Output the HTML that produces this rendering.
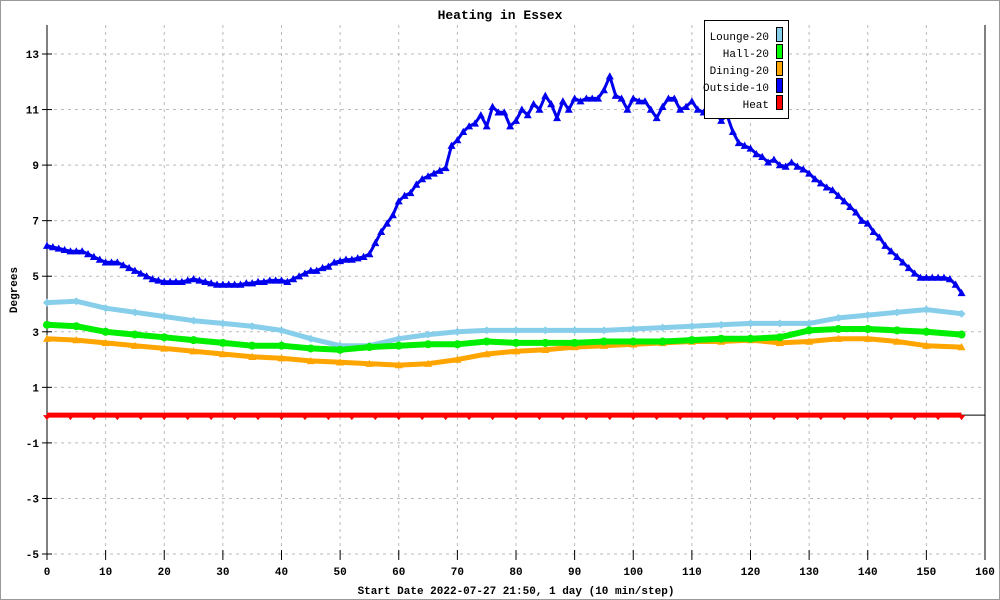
<!DOCTYPE html>
<html><head><meta charset="utf-8"><style>
html,body{margin:0;padding:0;background:#fff}
svg{display:block;font-family:"Liberation Mono","DejaVu Sans Mono",monospace}
</style></head><body>
<svg id="chart" width="1000" height="600" xmlns="http://www.w3.org/2000/svg">
<rect x="0.5" y="0.5" width="999" height="599" fill="#fff" stroke="#999"/>
<text x="500" y="19" text-anchor="middle" font-size="13" font-weight="bold">Heating in Essex</text>
<g id="grid"></g>
<g id="axes"></g>
<g id="series"></g>
<text transform="translate(17,290) rotate(-90)" text-anchor="middle" font-size="11" font-weight="bold">Degrees</text>
<text x="516" y="594" text-anchor="middle" font-size="11" font-weight="bold">Start Date 2022-07-27 21:50, 1 day (10 min/step)</text>
<g>
<rect x="704.5" y="20.5" width="84" height="98" fill="#fff" stroke="#000"/>
<g font-size="11">
<text x="769" y="40" text-anchor="end">Lounge-20</text>
<rect x="776.5" y="27.5" width="6" height="14" fill="#87ceeb" stroke="#000"/>
<text x="769" y="57" text-anchor="end">Hall-20</text>
<rect x="776.5" y="44.5" width="6" height="14" fill="#00ff00" stroke="#000"/>
<text x="769" y="74" text-anchor="end">Dining-20</text>
<rect x="776.5" y="61.5" width="6" height="14" fill="#ffa500" stroke="#000"/>
<text x="769" y="91" text-anchor="end">Outside-10</text>
<rect x="776.5" y="78.5" width="6" height="14" fill="#0000ff" stroke="#000"/>
<text x="769" y="108" text-anchor="end">Heat</text>
<rect x="776.5" y="95.5" width="6" height="14" fill="#ff0000" stroke="#000"/>
</g></g>
</svg>
<script>
const xTicks=[0,10,20,30,40,50,60,70,80,90,100,110,120,130,140,150,160];
const yTicks=[-5,-3,-1,1,3,5,7,9,11,13];
const outside=[6.1,6.05,6.0,5.95,5.9,5.9,5.9,5.8,5.7,5.6,5.5,5.5,5.5,5.4,5.3,5.2,5.1,5.0,4.9,4.85,4.8,4.8,4.8,4.8,4.85,4.9,4.85,4.8,4.75,4.7,4.7,4.7,4.7,4.7,4.75,4.75,4.8,4.8,4.85,4.85,4.85,4.8,4.9,5.0,5.1,5.2,5.2,5.3,5.35,5.5,5.55,5.6,5.6,5.65,5.7,5.8,6.2,6.6,6.9,7.2,7.7,7.9,8.0,8.3,8.5,8.6,8.7,8.8,8.9,9.7,9.9,10.2,10.4,10.5,10.8,10.4,11.1,10.9,10.9,10.4,10.6,11.0,10.8,11.2,11.0,11.5,11.2,10.7,11.3,11.0,11.4,11.3,11.4,11.4,11.4,11.7,12.2,11.5,11.4,11.0,11.4,11.3,11.3,11.0,10.7,11.1,11.4,11.4,11.0,11.1,11.3,11.0,10.9,10.9,10.9,10.6,10.8,10.2,9.8,9.7,9.6,9.4,9.3,9.1,9.2,9.0,8.95,9.1,8.95,8.85,8.7,8.5,8.35,8.2,8.1,7.9,7.7,7.5,7.3,7.0,6.9,6.6,6.4,6.1,5.9,5.7,5.5,5.3,5.1,4.95,4.95,4.95,4.95,4.95,4.9,4.7,4.4];
const sparseSteps=[0,5,10,15,20,25,30,35,40,45,50,55,60,65,70,75,80,85,90,95,100,105,110,115,120,125,130,135,140,145,150,156];
const lounge=[4.05,4.1,3.85,3.7,3.55,3.4,3.3,3.2,3.05,2.75,2.5,2.5,2.75,2.9,3.0,3.05,3.05,3.05,3.05,3.05,3.1,3.15,3.2,3.25,3.3,3.3,3.3,3.5,3.6,3.7,3.8,3.65];
const hall=[3.25,3.2,3.0,2.9,2.8,2.7,2.6,2.5,2.5,2.4,2.35,2.45,2.5,2.55,2.55,2.65,2.6,2.6,2.6,2.65,2.65,2.65,2.7,2.75,2.75,2.8,3.05,3.1,3.1,3.05,3.0,2.9];
const dining=[2.75,2.7,2.6,2.5,2.4,2.3,2.2,2.1,2.05,1.95,1.9,1.85,1.8,1.85,2.0,2.2,2.3,2.35,2.45,2.5,2.55,2.6,2.65,2.65,2.7,2.6,2.65,2.75,2.75,2.65,2.5,2.45];
const heatSteps=[0,4,8,12,16,20,24,28,32,36,40,44,48,52,56,60,64,68,72,76,80,84,88,92,96,100,104,108,112,116,120,124,128,132,136,140,144,148,152,156];
const heat=[0,0,0,0,0,0,0,0,0,0,0,0,0,0,0,0,0,0,0,0,0,0,0,0,0,0,0,0,0,0,0,0,0,0,0,0,0,0,0,0];

const NS="http://www.w3.org/2000/svg";
const X0=47,X1=985,Y13=54,Ym5=554;
function xs(v){return X0+(v-0)*(X1-X0)/160;}
function ys(v){return Ym5-(v+5)*(Ym5-Y13)/18;}
function mk(tag,attrs,parent){const e=document.createElementNS(NS,tag);for(const k in attrs)e.setAttribute(k,attrs[k]);parent.appendChild(e);return e;}
const grid=document.getElementById('grid'),axes=document.getElementById('axes'),ser=document.getElementById('series');

xTicks.forEach(t=>{
  if(t>0&&t<160){const g=mk('line',{x1:xs(t),x2:xs(t),y1:25,y2:Ym5,stroke:'#bbb','stroke-dasharray':'3,4'},grid);
  
  }
  const tk=mk('line',{x1:xs(t),x2:xs(t),y1:Ym5-4,y2:Ym5+6,stroke:'#000'},axes);
  
  
  const tl=mk('text',{x:xs(t),y:575,'text-anchor':'middle','font-size':'11','font-weight':'bold'},axes);
  tl.textContent=t;
  
  
});
yTicks.forEach(t=>{
  const g=mk('line',{x1:X0,x2:X1,y1:ys(t),y2:ys(t),stroke:'#bbb','stroke-dasharray':'3,4'},grid);
  
  
  const tk=mk('line',{x1:X0-5,x2:X0+5,y1:ys(t),y2:ys(t),stroke:'#000'},axes);
  
  
  const tl=mk('text',{x:X0-8,y:ys(t)+4,'text-anchor':'end','font-size':'11','font-weight':'bold'},axes);
  tl.textContent=t;
  
  
});
let a=mk('line',{x1:X0,x2:X0,y1:25,y2:Ym5,stroke:'#000'},axes);


a=mk('line',{x1:X1,x2:X1,y1:25,y2:Ym5,stroke:'#000'},axes);


a=mk('line',{x1:X0,x2:X1,y1:ys(0),y2:ys(0),stroke:'#000'},axes);



function drawSeries(name,steps,vals,color,width,marker,msize){
  const g=mk('g',{},ser);
  
  
  const pts=vals.map((v,i)=>xs(steps[i]).toFixed(1)+','+ys(v).toFixed(1)).join(' ');
  const pl=mk('polyline',{points:pts,fill:'none',stroke:color,'stroke-width':width,'stroke-linejoin':'round'},g);
  
  
  vals.forEach((v,i)=>{
    const cx=xs(steps[i]),cy=ys(v),s=msize;let m;
    if(marker==='circle')m=mk('circle',{cx:cx,cy:cy,r:s,fill:color},g);
    else if(marker==='diamond')m=mk('polygon',{points:`${cx},${cy-s} ${cx+s},${cy} ${cx},${cy+s} ${cx-s},${cy}`,fill:color},g);
    else if(marker==='tri')m=mk('polygon',{points:`${cx},${cy-s} ${cx+s},${cy+s*0.8} ${cx-s},${cy+s*0.8}`,fill:color},g);
    else m=mk('polygon',{points:`${cx-s},${cy} ${cx+s},${cy} ${cx},${cy+s+1}`,fill:color},g);
    
    
  });
}
const allSteps=outside.map((v,i)=>i);
drawSeries('heat',heatSteps,heat,'#ff0000',5,'down',4);
drawSeries('dining',sparseSteps,dining,'#ffa500',5,'tri',4);
drawSeries('lounge',sparseSteps,lounge,'#87ceeb',5,'diamond',4);
drawSeries('hall',sparseSteps,hall,'#00ee00',6,'circle',4);
drawSeries('outside',allSteps,outside,'#0000ee',3,'tri',4);
</script>
</body></html>
